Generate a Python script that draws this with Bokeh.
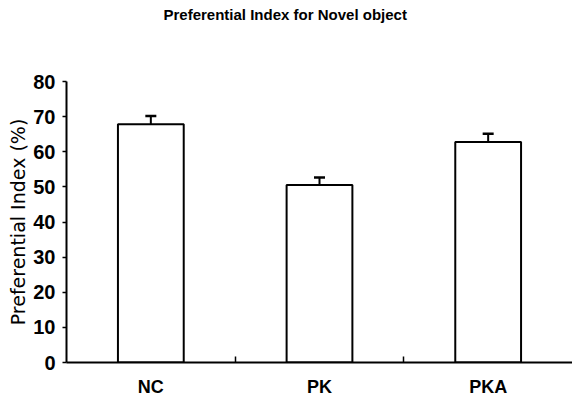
from bokeh.plotting import figure
from bokeh.models import Range1d, FixedTicker, ColumnDataSource, Whisker, TeeHead, Title
from bokeh.embed import file_html
from bokeh.resources import INLINE

groups = ["NC", "PK", "PKA"]
means = [67.8, 50.5, 62.8]
errors = [2.4, 2.2, 2.3]
yticks = [0, 10, 20, 30, 40, 50, 60, 70, 80]
title_text = "Preferential Index for Novel object"

xs = list(range(len(groups)))
src = ColumnDataSource(data=dict(
    x=xs, top=means,
    upper=[m + e for m, e in zip(means, errors)],
))

FONT = "Liberation Sans"

p = figure(width=572, height=405, output_backend="svg", toolbar_location=None,
           x_range=Range1d(-0.5, 2.5), y_range=Range1d(0, 80),
           min_border_left=66, min_border_right=0, min_border_bottom=43, min_border_top=81)
p.title.text = ""

# spacer (closest to frame), then the real title above it
spacer = Title(text=" ", text_font_size="15px", standoff=38, align="left")
p.add_layout(spacer, "above")
ttl = Title(text=title_text, align="left", offset=97, vertical_align="top",
            text_font=FONT, text_font_size="15px", text_font_style="bold",
            text_color="black", standoff=0)
p.add_layout(ttl, "above")

p.outline_line_color = None
p.grid.grid_line_color = None
p.background_fill_color = "white"
p.border_fill_color = "white"

p.vbar(x="x", top="top", bottom=0, width=0.39, source=src,
       fill_color="white", line_color="black", line_width=2)

w = Whisker(base="x", upper="upper", lower="top", source=src, dimension="height",
            line_color="black", line_width=2,
            upper_head=TeeHead(size=11, line_color="black", line_width=2.5),
            lower_head=None)
p.add_layout(w)

xa = p.xaxis[0]
xa.ticker = FixedTicker(ticks=xs, minor_ticks=[0.5, 1.5])
xa.major_label_overrides = {i: g for i, g in enumerate(groups)}
xa.major_tick_in = 0
xa.major_tick_out = 0
xa.minor_tick_in = 6
xa.minor_tick_out = 0
xa.minor_tick_line_width = 1.5
xa.axis_line_width = 2
xa.major_label_standoff = 14
xa.major_label_text_font = FONT
xa.major_label_text_font_size = "18px"
xa.major_label_text_font_style = "bold"
xa.major_label_text_color = "black"

ya = p.yaxis[0]
ya.ticker = FixedTicker(ticks=yticks)
ya.minor_tick_line_color = None
ya.major_tick_in = 0
ya.major_tick_out = 4
ya.major_tick_line_width = 1.5
ya.axis_line_width = 2
ya.major_label_standoff = 7
ya.major_label_text_font = FONT
ya.major_label_text_font_size = "20px"
ya.major_label_text_font_style = "bold"
ya.major_label_text_color = "black"
ya.axis_label = "Preferential Index (%)"
ya.axis_label_text_font = "DejaVu Sans"
ya.axis_label_text_font_size = "19px"
ya.axis_label_text_font_style = "normal"
ya.axis_label_text_color = "black"
ya.axis_label_standoff = 1

open("out.html", "w").write(file_html(p, INLINE))
